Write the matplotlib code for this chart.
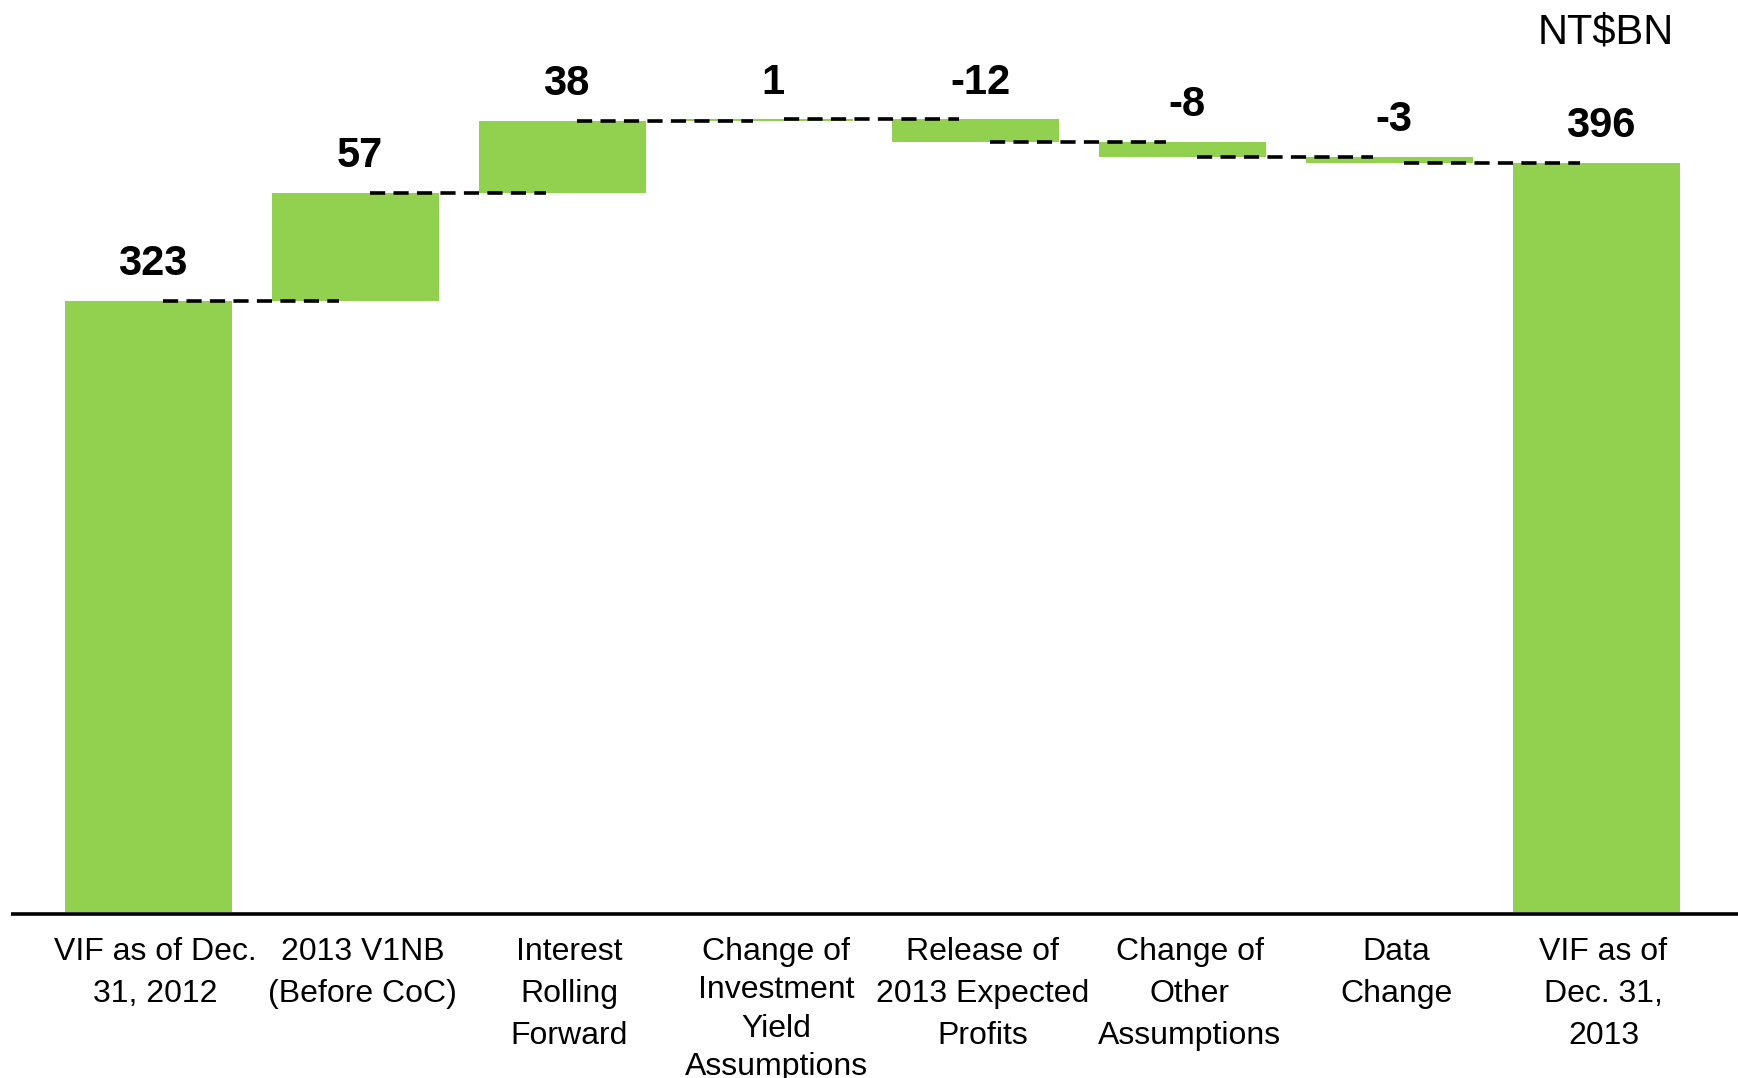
import matplotlib
matplotlib.use("Agg")
import matplotlib.pyplot as plt
import numpy as np

plt.rcParams['font.family'] = ['Liberation Sans', 'DejaVu Sans']

categories = ["VIF as of Dec.\n31, 2012", "2013 V1NB\n(Before CoC)",
              "Interest\nRolling\nForward", "Change of\nInvestment\nYield\nAssumptions",
              "Release of\n2013 Expected\nProfits", "Change of\nOther\nAssumptions",
              "Data\nChange", "VIF as of\nDec. 31,\n2013"]
values = [323, 57, 38, 1, -12, -8, -3, 396]
value_labels = ["323", "57", "38", "1", "-12", "-8", "-3", "396"]
unit_label = "NT$BN"

GREEN = "#92D050"

PX = 1.892  # pixels per data unit
Y_LO = -6
Y_HI = 470
base_px = 912  # baseline from top in px
ax_bottom = (1078 - base_px - (-Y_LO) * PX) / 1078
ax_height = (Y_HI - Y_LO) * PX / 1078

fig = plt.figure(figsize=(17.38, 10.78), dpi=100)
ax = fig.add_axes([11 / 1738, ax_bottom, 1 - 11 / 1738, ax_height])

n = len(values)
x = np.arange(n)
bottoms = []
heights = []
tops = []
running = 0
for i, v in enumerate(values):
    if i == 0 or i == n - 1:
        b, h = 0, v
        running = v
        top = v
    else:
        new = running + v
        b = min(running, new)
        h = abs(v)
        top = max(running, new)
        running = new
    bottoms.append(b)
    heights.append(h)
    tops.append(top)

ax.bar(x, heights, bottom=bottoms, width=0.807, color=GREEN, zorder=2)

# connector dashed lines at running totals
level = 0
levels = []
for i, v in enumerate(values[:-1]):
    level = v if i == 0 else level + v
    levels.append(level)
for i, lv in enumerate(levels):
    ax.plot([x[i] + 0.07, x[i + 1] - 0.08], [lv, lv], color="black", lw=2.6,
            dashes=(4.2, 2.3), zorder=3, dash_capstyle='butt')

# value labels
for i in range(n):
    ax.annotate(value_labels[i], xy=(x[i], tops[i]), xytext=(3, 12),
                textcoords='offset points', ha='center', va='bottom',
                fontsize=30, fontweight='bold', color='black')

# category labels
for i in range(n):
    nlines = categories[i].count("\n") + 1
    ax.annotate(categories[i], xy=(x[i], 0), xytext=(5, -18),
                textcoords='offset points', ha='center', va='top',
                fontsize=23, color='black',
                linespacing=1.36 if nlines > 3 else 1.52,
                annotation_clip=False)

ax.axhline(-1.2, color='black', lw=2.6, zorder=4)

ax.set_xlim(-0.665, 7.684)
ax.set_ylim(Y_LO, Y_HI)
ax.axis('off')

fig.text(1674 / 1738, 1 - 13 / 1078, unit_label, ha='right', va='top', fontsize=30)

fig.savefig("out.png", dpi=100)
